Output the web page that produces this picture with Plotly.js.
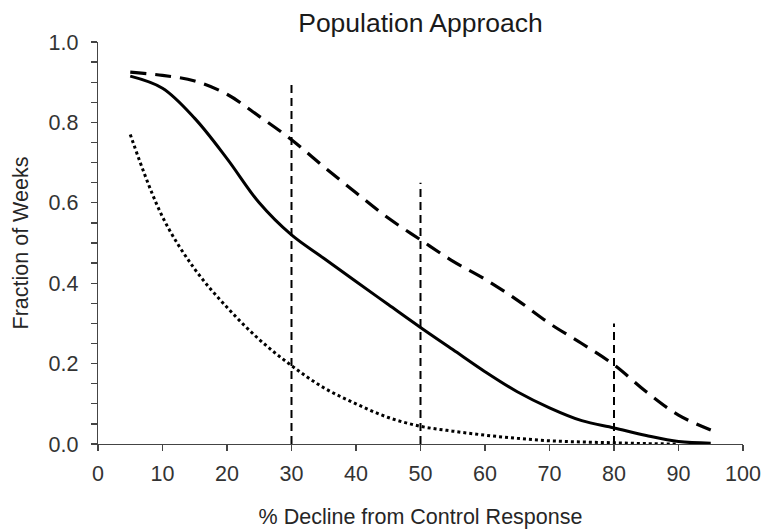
<!DOCTYPE html>
<html>
<head>
<meta charset="utf-8">
<script src="https://cdn.plot.ly/plotly-3.0.1.min.js"></script>
<style>html,body{margin:0;padding:0;background:#fff;}#chart{width:766px;height:531px;}</style>
</head>
<body>
<div id="chart"></div>
<script>
// % decline values
const declinePct = [5,10,15,20,25,30,35,40,45,50,55,60,65,70,75,80,85,90,95];
// upper dashed curve
const dashedSeries = [0.925,0.917,0.903,0.87,0.815,0.757,0.690,0.625,0.562,0.508,0.455,0.41,0.358,0.30,0.25,0.197,0.13,0.072,0.035];
// solid curve
const solidSeries = [0.915,0.885,0.81,0.71,0.60,0.52,0.462,0.404,0.347,0.29,0.235,0.18,0.13,0.09,0.058,0.040,0.021,0.006,0.002];
// dotted curve (ends at 90)
const dottedX = [5,10,15,20,25,30,35,40,45,50,55,60,65,70,75,80,85,90];
const dottedSeries = [0.77,0.565,0.435,0.34,0.26,0.195,0.14,0.10,0.066,0.044,0.032,0.022,0.014,0.008,0.005,0.003,0.001,0.0];
// vertical reference lines
const refX = [30,50,80];
const refTop = [0.9,0.65,0.3];
const xTicks = [0,10,20,30,40,50,60,70,80,90,100];
const yTicks = [0,0.2,0.4,0.6,0.8,1.0];
const yTickText = ['0.0','0.2','0.4','0.6','0.8','1.0'];

const FONT = 'Liberation Sans, Arial, sans-serif';
const traces = [];
refX.forEach((x, i) => {
  traces.push({x: [x, x], y: [0, refTop[i]], mode: 'lines', type: 'scatter',
    line: {color: '#000', width: 2, dash: '8px,5px'}, hoverinfo: 'skip', showlegend: false});
});
traces.push({x: declinePct, y: dashedSeries, mode: 'lines', type: 'scatter',
  line: {color: '#000', width: 3.2, shape: 'spline', smoothing: 1, dash: '16px,9px'}, showlegend: false});
traces.push({x: declinePct, y: solidSeries, mode: 'lines', type: 'scatter',
  line: {color: '#000', width: 3, shape: 'spline', smoothing: 1}, showlegend: false});
traces.push({x: dottedX, y: dottedSeries, mode: 'lines', type: 'scatter',
  line: {color: '#000', width: 3, shape: 'spline', smoothing: 1, dash: '3px,3px'}, showlegend: false});

const layout = {
  width: 766, height: 531,
  margin: {l: 98, r: 23, t: 42, b: 87},
  paper_bgcolor: '#fff', plot_bgcolor: '#fff',
  font: {family: FONT, color: '#262626', size: 21},
  title: {text: 'Population Approach', font: {family: FONT, size: 26.5, color: '#1a1a1a'},
    x: 0.5, xref: 'paper', xanchor: 'center', y: 0.958, yref: 'container', yanchor: 'middle'},
  xaxis: {range: [0, 100], tickvals: xTicks, ticks: 'outside', ticklen: 6, tickwidth: 1.3, tickcolor: '#444',
    showline: true, linecolor: '#444', linewidth: 1.3, showgrid: false, zeroline: false,
    tickfont: {family: FONT, size: 21.5, color: '#333'}, ticklabelstandoff: 4,
    title: {text: '% Decline from Control Response', font: {family: FONT, size: 21.5, color: '#262626'}, standoff: 24}},
  yaxis: {range: [0, 1], tickvals: yTicks, ticktext: yTickText, ticks: 'outside', ticklen: 6, tickwidth: 1.3, tickcolor: '#444',
    showline: true, linecolor: '#444', linewidth: 1.3, showgrid: false, zeroline: false,
    minor: {dtick: 0.05, ticks: 'outside', ticklen: 6, tickwidth: 1.3, tickcolor: '#444', showgrid: false},
    tickfont: {family: FONT, size: 21.5, color: '#333'}, ticklabelstandoff: 8,
    title: {text: 'Fraction of Weeks', font: {family: FONT, size: 21.5, color: '#262626'}, standoff: 14}},
  showlegend: false
};
Plotly.newPlot('chart', traces, layout, {displayModeBar: false, staticPlot: true});
</script>
</body>
</html>
